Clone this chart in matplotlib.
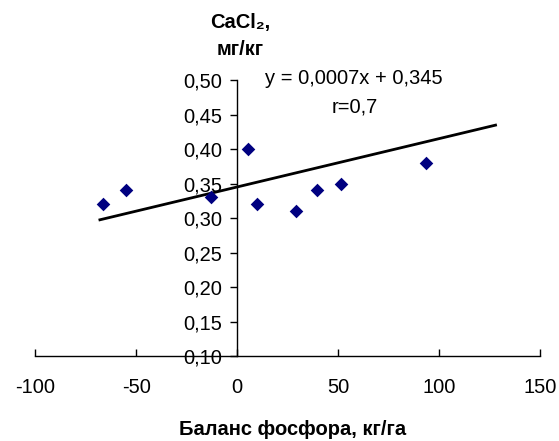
import numpy as np
import matplotlib.pyplot as plt
from matplotlib.ticker import FuncFormatter

plt.rcParams['font.family'] = ['Liberation Sans', 'DejaVu Sans']
plt.rcParams['axes.unicode_minus'] = False

# data
balance = [-66.7, -55.2, -12.8, 5.3, 10.0, 29.3, 39.5, 51.2, 93.7]
cacl2 = [0.32, 0.34, 0.33, 0.40, 0.32, 0.31, 0.34, 0.35, 0.38]
slope = 0.0007
intercept = 0.345
r_value = 0.7
trend_x = [-68, 128]   # range of the trendline (forecast forward)

x_ticks = [-100, -50, 0, 50, 100, 150]
y_ticks = [0.10, 0.15, 0.20, 0.25, 0.30, 0.35, 0.40, 0.45, 0.50]

fs = 14.5

fig = plt.figure(figsize=(5.59, 4.41), dpi=100)
ax = fig.add_axes([0.0632, 0.1927, 0.9027, 0.6259])

ax.scatter(balance, cacl2, marker='D', s=48, color='#000080', linewidths=0, zorder=3)
tx = np.array(trend_x, dtype=float)
ax.plot(tx, slope*tx + intercept, color='black', lw=2.0, zorder=2)

ax.set_xlim(-100, 150)
ax.set_ylim(0.10, 0.50)
ax.set_xticks(x_ticks)
ax.set_yticks(y_ticks)
ax.yaxis.set_major_formatter(FuncFormatter(lambda v, p: ('%.2f' % v).replace('.', ',')))

# axes cross at x=0, y=0.10
ax.spines['left'].set_position(('data', 0))
ax.spines['bottom'].set_position(('data', 0.10))
ax.spines['right'].set_visible(False)
ax.spines['top'].set_visible(False)
for s in ['left', 'bottom']:
    ax.spines[s].set_linewidth(1.0)
ax.tick_params(axis='x', direction='in', length=5, width=1.0, pad=16, labelsize=fs)
ax.tick_params(axis='y', direction='out', length=5, width=1.0, pad=5.5, labelsize=fs)

fig.text(0.429, 0.95, 'CaCl₂,', ha='center', va='center', fontsize=fs, fontweight='bold')
fig.text(0.429, 0.887, 'мг/кг', ha='center', va='center', fontsize=fs, fontweight='bold')

eq = 'y = 0,0007x + 0,345'
fig.text(0.474, 0.823, eq, ha='left', va='center', fontsize=fs)
fig.text(0.594, 0.758, ('r=%.1f' % r_value).replace('.', ','), ha='left', va='center', fontsize=fs)

fig.text(0.524, 0.025, 'Баланс фосфора, кг/га', ha='center', va='center',
         fontsize=fs, fontweight='bold')

plt.savefig('out.png', dpi=100)
